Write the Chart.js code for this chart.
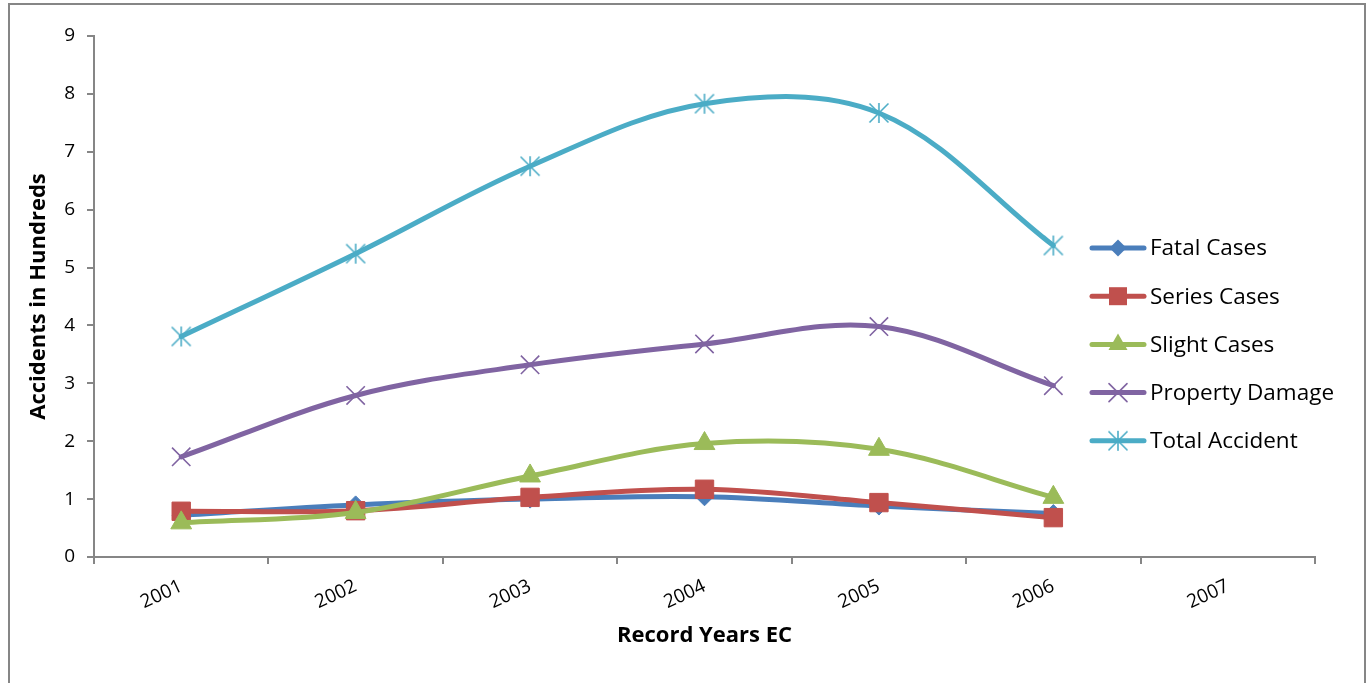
<!DOCTYPE html>
<html>
<head>
<meta charset="utf-8">
<script src="https://cdn.jsdelivr.net/npm/chart.js@4.4.1/dist/chart.umd.min.js"></script>
<style>
  html, body { margin: 0; padding: 0; background: #fff; overflow: hidden; }
  #wrap { position: relative; width: 1370px; height: 683px; }
</style>
</head>
<body>
<div id="wrap"><canvas id="c" width="1370" height="683"></canvas></div>
<script>
// Road traffic accidents by record year (Ethiopian calendar), in hundreds
const years = ['2001', '2002', '2003', '2004', '2005', '2006', '2007'];
const fatalCases     = [0.72, 0.90, 1.00, 1.04, 0.88, 0.75, null];
const seriesCases    = [0.79, 0.80, 1.03, 1.17, 0.94, 0.68, null];
const slightCases    = [0.59, 0.77, 1.40, 1.96, 1.86, 1.03, null];
const propertyDamage = [1.73, 2.79, 3.32, 3.68, 3.98, 2.96, null];
const totalAccident  = [3.81, 5.24, 6.75, 7.83, 7.67, 5.38, null];
const seriesNames = ['Fatal Cases', 'Series Cases', 'Slight Cases', 'Property Damage', 'Total Accident'];
const yTickValues = [0, 1, 2, 3, 4, 5, 6, 7, 8, 9];

const FONT = '"Open Sans", "DejaVu Sans", sans-serif';
const AXIS_GREY = '#868686';
const colors = ['#4A7EBB', '#C0504D', '#9BBB59', '#8064A2', '#4BACC6'];

// Asterisk marker: diagonal cross plus a vertical stroke
function asteriskMarker(color, size, lw) {
  const c = document.createElement('canvas');
  c.width = c.height = size;
  const g = c.getContext('2d');
  const h = size / 2, r = h - 1, d = r * 0.95;
  g.strokeStyle = color;
  g.lineWidth = lw;
  g.beginPath();
  g.moveTo(h - d, h - d); g.lineTo(h + d, h + d);
  g.moveTo(h + d, h - d); g.lineTo(h - d, h + d);
  g.moveTo(h, h - r); g.lineTo(h, h + r);
  g.stroke();
  return c;
}
const starImg = asteriskMarker(colors[4], 22, 1.6);

const markerDefs = [
  { style: 'rectRot',  radius: 9,  borderWidth: 1 },
  { style: 'rect',     radius: 13, borderWidth: 1 },
  { style: 'triangle', radius: 12, borderWidth: 1 },
  { style: 'crossRot', radius: 13, borderWidth: 1.6 },
  { style: starImg,    radius: 11, borderWidth: 1 }
];

const values = [fatalCases, seriesCases, slightCases, propertyDamage, totalAccident];
const datasets = values.map((data, i) => ({
  label: seriesNames[i],
  data: data,
  borderColor: colors[i],
  backgroundColor: colors[i],
  pointBackgroundColor: colors[i],
  pointBorderColor: colors[i],
  pointStyle: markerDefs[i].style,
  pointRadius: markerDefs[i].radius,
  pointBorderWidth: markerDefs[i].borderWidth,
  borderWidth: 5,
  borderCapStyle: 'round',
  borderJoinStyle: 'round',
  tension: 0.35,
  fill: false,
  order: values.length - i   // later series painted over earlier ones
}));

// Outer frame around the whole chart
const framePlugin = {
  id: 'frame',
  beforeDraw(chart) {
    const ctx = chart.ctx;
    ctx.save();
    ctx.fillStyle = '#fff';
    ctx.fillRect(0, 0, chart.width, chart.height);
    ctx.strokeStyle = AXIS_GREY;
    ctx.lineWidth = 2;
    ctx.strokeRect(9, 4, chart.width - 14, chart.height + 10);
    ctx.restore();
  }
};

// Legend with line sample and marker for each series
function drawLegendMarker(ctx, i, x, y) {
  const c = colors[i];
  ctx.save();
  ctx.fillStyle = c;
  ctx.strokeStyle = c;
  ctx.beginPath();
  if (i === 0) {
    const r = 8.5;
    ctx.moveTo(x, y - r); ctx.lineTo(x + r, y); ctx.lineTo(x, y + r); ctx.lineTo(x - r, y);
    ctx.closePath(); ctx.fill();
  } else if (i === 1) {
    ctx.rect(x - 9, y - 9, 18, 18); ctx.fill();
  } else if (i === 2) {
    const r = 11;
    ctx.moveTo(x, y - r);
    ctx.lineTo(x + r * 0.866, y + r / 2);
    ctx.lineTo(x - r * 0.866, y + r / 2);
    ctx.closePath(); ctx.fill();
  } else if (i === 3) {
    const d = 9;
    ctx.lineWidth = 1.6;
    ctx.moveTo(x - d, y - d); ctx.lineTo(x + d, y + d);
    ctx.moveTo(x + d, y - d); ctx.lineTo(x - d, y + d);
    ctx.stroke();
  } else {
    ctx.drawImage(starImg, x - starImg.width / 2, y - starImg.height / 2);
  }
  ctx.restore();
}

const legendPlugin = {
  id: 'sideLegend',
  afterDraw(chart) {
    const ctx = chart.ctx;
    const left = chart.width - 280;
    const top = 248;
    const step = 48.2;
    ctx.save();
    ctx.font = '22.5px ' + FONT;
    ctx.textBaseline = 'middle';
    ctx.textAlign = 'left';
    seriesNames.forEach((name, i) => {
      const y = top + i * step;
      ctx.strokeStyle = colors[i];
      ctx.lineWidth = 5;
      ctx.lineCap = 'round';
      ctx.beginPath();
      ctx.moveTo(left + 2, y);
      ctx.lineTo(left + 54, y);
      ctx.stroke();
      drawLegendMarker(ctx, i, left + 28, y);
      ctx.fillStyle = '#000';
      ctx.fillText(name, left + 60, y + 1);
    });
    ctx.restore();
  }
};

new Chart(document.getElementById('c'), {
  type: 'line',
  data: { labels: years, datasets: datasets },
  options: {
    responsive: false,
    animation: false,
    devicePixelRatio: 1,
    layout: { padding: { left: 18, right: 55, top: 36, bottom: 0 } },
    plugins: {
      legend: { display: false },
      tooltip: { enabled: false }
    },
    scales: {
      x: {
        type: 'category',
        offset: true,
        grid: {
          offset: true,
          drawOnChartArea: false,
          drawTicks: true,
          tickLength: 7,
          color: AXIS_GREY,
          lineWidth: 2
        },
        border: { color: AXIS_GREY, width: 2 },
        ticks: {
          minRotation: 25,
          maxRotation: 25,
          padding: 11,
          color: '#000',
          font: { family: FONT, size: 19 }
        },
        title: {
          display: true,
          text: 'Record Years EC',
          color: '#000',
          font: { family: FONT, size: 22, weight: 'bold' },
          padding: { top: 0, bottom: 34 }
        },
        afterFit(scale) { scale.height = 126; }
      },
      y: {
        min: 0,
        max: 9,
        afterBuildTicks(scale) { scale.ticks = yTickValues.map(v => ({ value: v })); },
        grid: {
          drawOnChartArea: false,
          drawTicks: true,
          tickLength: 7,
          color: AXIS_GREY,
          lineWidth: 2
        },
        border: { color: AXIS_GREY, width: 2 },
        ticks: {
          padding: 12,
          color: '#000',
          font: { family: FONT, size: 19 }
        },
        title: {
          display: true,
          text: 'Accidents in Hundreds',
          color: '#000',
          font: { family: FONT, size: 22, weight: 'bold' },
          padding: { top: 8, bottom: 0 }
        },
        afterFit(scale) { scale.width = 76; }
      }
    }
  },
  plugins: [framePlugin, legendPlugin]
});
</script>
</body>
</html>
